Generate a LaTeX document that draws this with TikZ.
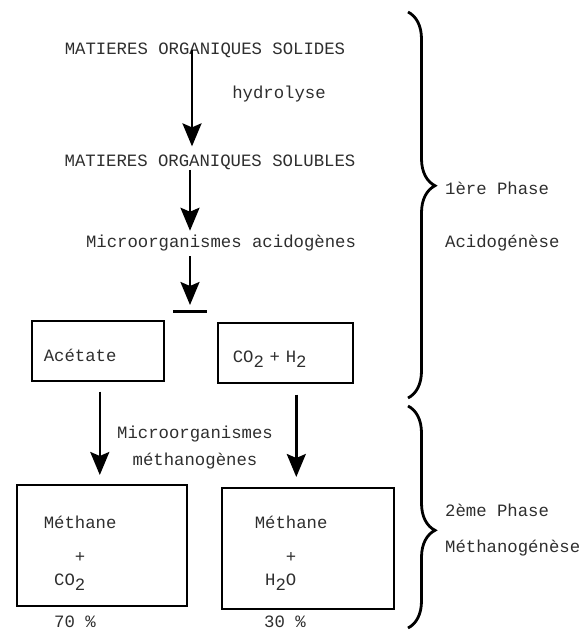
\documentclass[tikz,border=0pt]{standalone}
\usepackage{fontspec}
\setmonofont{Liberation Mono}
\usepackage{xcolor}
\definecolor{cInk}{HTML}{2E2E2E}
\usetikzlibrary{positioning,arrows.meta,decorations.pathreplacing,calc}
\newcommand{\chemsub}[1]{\raisebox{-0.5ex}{#1}}
\tikzset{
  txt/.style={font=\ttfamily\fontsize{17.3}{27}\selectfont,text=cInk,inner sep=0pt},
  box/.style={txt,draw=black,line width=1.6pt,inner ysep=0pt,align=left},
  arrow/.style={-{Stealth[length=23pt,width=19pt,inset=4pt]},line width=2.6pt},
  bar/.style={line width=3pt},
  phase-brace/.style={decorate,decoration={brace,amplitude=27pt},line width=2.8pt},
}
\begin{document}
\begin{tikzpicture}[x=1pt,y=-1pt]
  \useasboundingbox (0,0) rectangle (581,632);
  % phase 1
  \node[txt] (solides)  at (205,50)  {MATIERES ORGANIQUES SOLIDES};
  \node[txt] (hydro)    at (279,94)  {hydrolyse};
  \node[txt] (solubles) at (210,162) {MATIERES ORGANIQUES SOLUBLES};
  \node[txt] (acido)    at (221,243) {Microorganismes acidogènes};
  \coordinate (split) at (190,311);
  \node[box,anchor=north west,minimum width=132pt,minimum height=60pt,
    inner xsep=12pt,text width=108pt,text height=41pt,text depth=19pt] (acetate) at (31,320) {Acétate};
  \node[box,anchor=north west,minimum width=135pt,minimum height=60pt,
    inner xsep=15pt,text width=105pt,text height=40pt,text depth=20pt] (co2h2) at (217,322)
    {CO\chemsub{2} + H\chemsub{2}};
  % phase 2
  \node[txt,align=center] (metha) at (195,448) {Microorganismes\\méthanogènes};
  \node[box,anchor=north west,minimum width=170pt,minimum height=121pt,
    inner xsep=27pt,text width=116pt,text height=44pt,text depth=77pt] (m1) at (16,484)
    {Méthane\\[7pt]\phantom{Mét}+\\[-4pt]\phantom{M}CO\chemsub{2}};
  \node[box,anchor=north west,minimum width=172pt,minimum height=121pt,
    inner xsep=33pt,text width=106pt,text height=41pt,text depth=80pt] (m2) at (221,487)
    {Méthane\\[7pt]\phantom{Mét}+\\[-4pt]\phantom{M}H\chemsub{2}O};
  \node[txt] (p1) at (75,622)  {70 \%};
  \node[txt] (p2) at (285,622) {30 \%};
  % braces
  \draw[phase-brace,decoration={aspect=0.45}] (408,12) -- (408,398);
  \draw[phase-brace,decoration={aspect=0.56}] (408,406) -- (408,628);
  \node[txt,anchor=west] (ph1a) at (445,188) {1ère Phase};
  \node[txt,below=55pt of ph1a.west,anchor=west] (ph1b) {Acidogénèse};
  \node[txt,anchor=west] (ph2a) at (445,510) {2ème Phase};
  \node[txt,below=38pt of ph2a.west,anchor=west] (ph2b) {Méthanogénèse};
  % arrows
  \draw[arrow,shorten >=8pt] ([xshift=2pt]solides.center -| split) -- ([xshift=2pt]solubles.north -| split);
  \draw[arrow,shorten >=4pt] (solubles.south -| split) -- (acido.north -| split);
  \draw[arrow,shorten <=5pt,shorten >=6pt] (acido.south -| split) -- (split);
  \draw[bar] ([xshift=-17pt]split) -- ([xshift=17pt]split);
  \draw[arrow,shorten <=10pt,shorten >=9pt] ([xshift=2pt]acetate.south) -- ([xshift=2pt]acetate.south |- m1.north);
  \draw[arrow,shorten <=11pt,shorten >=10pt] ([xshift=11pt]co2h2.south) -- ([xshift=11pt]co2h2.south |- m2.north);
\end{tikzpicture}
\end{document}
